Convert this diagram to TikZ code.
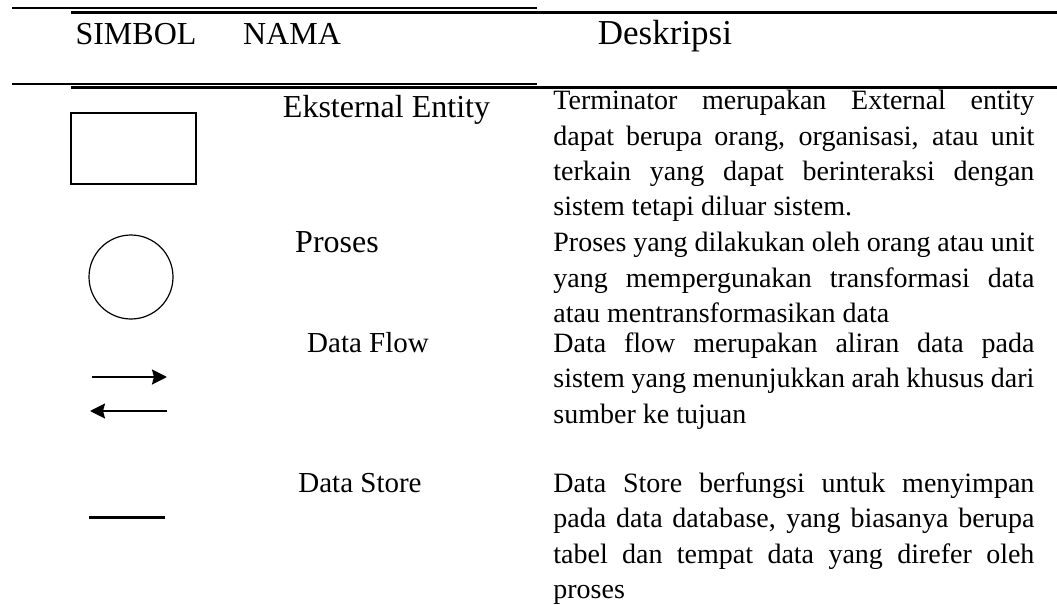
\documentclass[tikz,border=0pt]{standalone}
\usepackage{fontspec}
\setmainfont{Liberation Serif}
\usepackage{tikz}
\usetikzlibrary{ % tikz packages
    positioning,
    arrows.meta
}
\tikzset{>={Stealth[length=7.5pt,width=7.5pt,inset=1pt]}}
\tikzset{
    head/.style={anchor=base, inner sep=0pt, font=\fontsize{16}{19}\selectfont},
    nama/.style={anchor=base, inner sep=0pt, font=\fontsize{16}{19}\selectfont},
    namakecil/.style={anchor=base, inner sep=0pt, font=\fontsize{14.5}{17}\selectfont},
    desc/.style={anchor=base west, inner sep=0pt, text width=240.5pt,
        align=justify, font=\fontsize{14}{17.75}\selectfont},
    garis/.style={line width=1pt},
    garistebal/.style={line width=1.5pt}
}

\begin{document}
\begin{tikzpicture}[x=0.5pt,y=-0.5pt]
            \useasboundingbox (0,0) rectangle (1057,605);
            % garis tabel
            \coordinate (ta1) at (12,8);
            \coordinate (ta2) at (537,8);
            \coordinate (tb1) at (71,12);
            \coordinate (tb2) at (1057,12);
            \coordinate (ba1) at (12,84);
            \coordinate (ba2) at (537,84);
            \coordinate (bb1) at (71,87.5);
            \coordinate (bb2) at (1057,87.5);
            \draw[garis] (ta1) -- (ta2);
            \draw[garistebal] (tb1) -- (tb2);
            \draw[garis] (ba1) -- (ba2);
            \draw[garistebal] (bb1) -- (bb2);

            % judul kolom
            \node[head] (simbol) at (136,45) {SIMBOL};
            \node[head] (nama) at (292,45) {NAMA};
            \node[head, font=\fontsize{17.5}{20}\selectfont] (deskripsi) at (665,45) {Deskripsi};

            % simbol
            \node[draw, line width=0.8pt, minimum width=62.5pt, minimum height=35.5pt,
                inner sep=0pt] (entity) at (133.5,148.5) {};
            \node[draw, circle, line width=0.6pt, minimum size=42pt,
                inner sep=0pt] (proses) at (131,277) {};
            \coordinate (fa) at (92,377);
            \coordinate (fb) at (167,377);
            \coordinate (fc) at (167,411);
            \coordinate (fd) at (90,411);
            \path[->, line width=1.1pt]
                (fa)
                    edge (fb)
                (fc)
                    edge (fd);
            \coordinate (sa) at (89,517);
            \coordinate (sb) at (165,517);
            \draw[garistebal] (sa) -- (sb);

            % nama
            \node[nama] (nentity) at (386.5,117) {Eksternal Entity};
            \node[nama] (nproses) at (337,252) {Proses};
            \node[namakecil] (nflow) at (368,352) {Data Flow};
            \node[namakecil] (nstore) at (360,492) {Data Store};

            % deskripsi
            \node[desc] (dentity) at (553,109.5) {Terminator merupakan External entity\linebreak
                dapat berupa orang, organisasi, atau unit\linebreak
                terkain yang dapat berinteraksi dengan\linebreak
                sistem tetapi diluar sistem.};
            \node[desc] (dproses) at (553,251.5) {Proses yang dilakukan oleh orang atau unit\linebreak
                yang mempergunakan transformasi data\linebreak
                atau mentransformasikan data};
            \node[desc] (dflow) at (553,352) {Data flow merupakan aliran data pada\linebreak
                sistem yang menunjukkan arah khusus dari\linebreak
                sumber ke tujuan};
            \node[desc] (dstore) at (553,492) {Data Store berfungsi untuk menyimpan\linebreak
                pada data database, yang biasanya berupa\linebreak
                tabel dan tempat data yang direfer oleh\linebreak
                proses};
        \end{tikzpicture}
\end{document}
